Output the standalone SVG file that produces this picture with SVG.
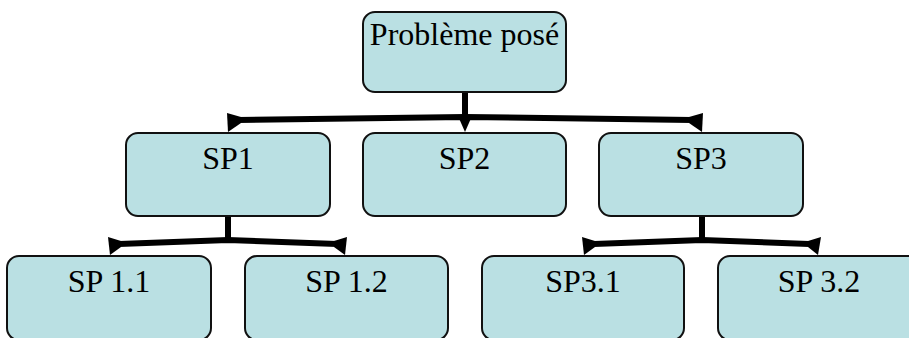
<svg xmlns="http://www.w3.org/2000/svg" width="909" height="338" viewBox="0 0 909 338">
<style>
.box{fill:#bae0e3;stroke:#111;stroke-width:2}
.lbl{font-family:"Liberation Serif","Times New Roman",serif;font-size:32px;fill:#000;text-anchor:middle}
.ln{fill:none;stroke:#000;stroke-width:6;stroke-linejoin:miter}
.ah{fill:#000;stroke:none}
</style>
<rect width="909" height="338" fill="#fff"/>
<g id="connectors">
  <path class="ln" d="M465,92 V117"/>
  <path class="ln" d="M238,120 L465,117 L692,120"/>
  <polygon class="ah" points="227,113 241,117 241,123 228,132"/>
  <polygon class="ah" points="458,116 472,116 465,132"/>
  <polygon class="ah" points="703,113 689,117 689,123 702,132"/>
  <path class="ln" d="M228,216 V240"/>
  <path class="ln" d="M119,244 L228,240 L337,244"/>
  <polygon class="ah" points="108,237 121,241 121,247 110,255"/>
  <polygon class="ah" points="347,237 334,241 334,247 345,255"/>
  <path class="ln" d="M702,216 V240"/>
  <path class="ln" d="M594,244 L702,240 L809,244"/>
  <polygon class="ah" points="582,237 595,241 595,247 584,255"/>
  <polygon class="ah" points="821,237 808,241 808,247 818,255"/>
</g>
<g id="n0"><rect class="box" x="363" y="12" width="203" height="80" rx="12"/><text class="lbl" x="464.5" y="45">Problème posé</text></g>
<g id="n1"><rect class="box" x="126" y="133" width="204" height="83" rx="12"/><text class="lbl" x="228" y="169">SP1</text></g>
<g id="n2"><rect class="box" x="363" y="133" width="203" height="83" rx="12"/><text class="lbl" x="464.5" y="169">SP2</text></g>
<g id="n3"><rect class="box" x="599" y="133" width="204" height="83" rx="12"/><text class="lbl" x="701" y="169">SP3</text></g>
<g id="n11"><rect class="box" x="7" y="256" width="204" height="84" rx="12"/><text class="lbl" x="109" y="292">SP 1.1</text></g>
<g id="n12"><rect class="box" x="245" y="256" width="203" height="84" rx="12"/><text class="lbl" x="346.5" y="292">SP 1.2</text></g>
<g id="n31"><rect class="box" x="482" y="256" width="202" height="84" rx="12"/><text class="lbl" x="583" y="292">SP3.1</text></g>
<g id="n32"><rect class="box" x="718" y="256" width="203" height="84" rx="12"/><text class="lbl" x="819" y="292">SP 3.2</text></g>
</svg>
